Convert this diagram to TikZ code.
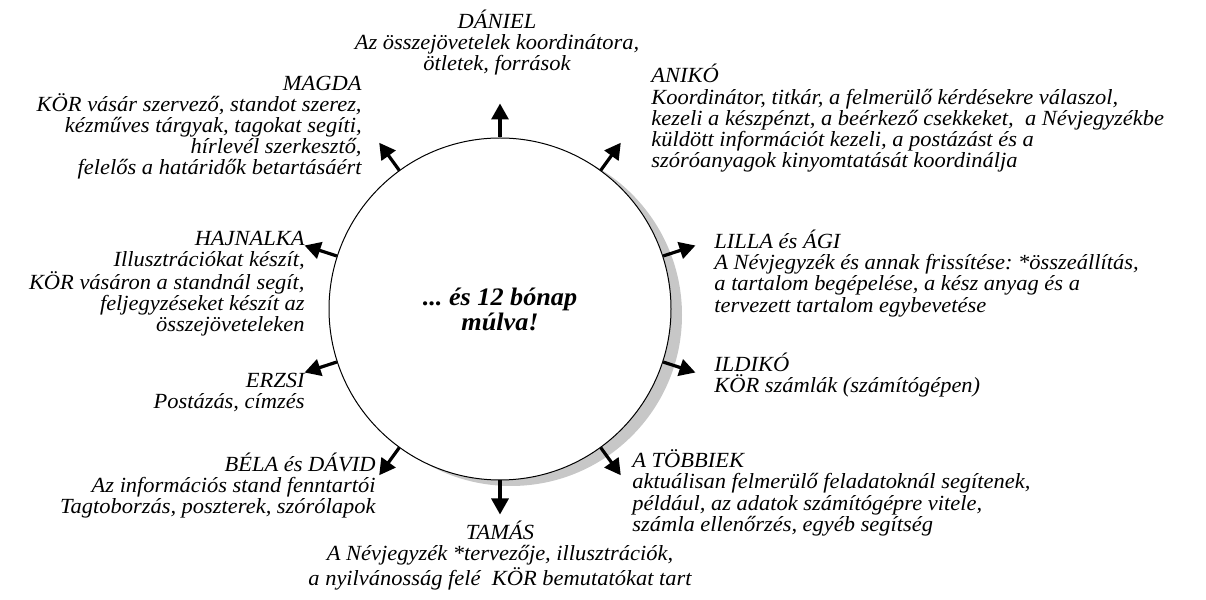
\documentclass[tikz,border=0pt]{standalone}
\usepackage{fontspec}
\setmainfont{Liberation Serif}[ItalicFeatures={FakeStretch=1.04},BoldItalicFeatures={FakeStretch=1.04}]
\usetikzlibrary{arrows.meta}
\frenchspacing
\begin{document}
\begin{tikzpicture}[x=0.5pt,y=0.5pt,font=\fontsize{10.8}{10.6}\selectfont\itshape,
		nyil/.style={line width=1.6pt,-{Triangle[length=8pt,width=8.5pt]}},
		szoveg/.style={inner sep=0pt,execute at begin node={\rule{0pt}{10pt}}}]
				\useasboundingbox (0,0) rectangle (1206,600);
				\path (500,291) coordinate (O);
				\fill[black!22] (O) ++(11,-6) circle (85.5pt);
				\node[circle,draw,fill=white,line width=0.5pt,minimum size=171pt,inner sep=0pt,align=center,
					font=\fontsize{12.6}{11}\selectfont\bfseries\itshape] (kor) at (O) {... és 12 bónap\\múlva!};
				\foreach \a in {90,54,18,-18,-54,-90,-126,-162,162,126}{
					\path (kor.\a) ++(\a:34) coordinate (v\a);
					\draw[nyil] (kor.\a) -- (v\a);
				}
				\node[szoveg,anchor=north,align=center] (dani) at (497,590.5) {DÁNIEL\\Az összejövetelek koordinátora,\\ötletek, források};
				\node[szoveg,anchor=north east,align=right] (magda) at (362,524.5) {MAGDA\\KÖR vásár szervező, standot szerez,\\kézműves tárgyak, tagokat segíti,\\hírlevél szerkesztő,\\felelős a határidők betartásáért};
				\node[szoveg,anchor=north west,align=left] (aniko) at (651,536) {ANIKÓ\\Koordinátor, titkár, a felmerülő kérdésekre válaszol,\\kezeli a készpénzt, a beérkező csekkeket,~ a Névjegyzékbe\\küldött információt kezeli, a postázást és a\\szóróanyagok kinyomtatását koordinálja};
				\node[szoveg,anchor=north west,align=left] (lilla) at (714,370.5) {LILLA és ÁGI\\A Névjegyzék és annak frissítése: *összeállítás,\\a tartalom begépelése, a kész anyag és a\\tervezett tartalom egybevetése};
				\node[szoveg,anchor=north west,align=left] (ildiko) at (714,247.5) {ILDIKÓ\\KÖR számlák (számítógépen)};
				\node[szoveg,anchor=north west,align=left] (tobbiek) at (632,150.5) {A TÖBBIEK\\aktuálisan felmerülő feladatoknál segítenek,\\például, az adatok számítógépre vitele,\\számla ellenőrzés, egyéb segítség};
				\node[szoveg,anchor=north,align=center] (tamas) at (500,79.5) {TAMÁS\\A Névjegyzék *tervezője, illusztrációk,\\a nyilvánosság felé~ KÖR bemutatókat tart};
				\node[szoveg,anchor=north east,align=right] (bela) at (376,147.5) {BÉLA és DÁVID\\Az információs stand fenntartói\\Tagtoborzás, poszterek, szórólapok};
				\node[szoveg,anchor=north east,align=right] (erzsi) at (305,227.5) {ERZSI\\Postázás, címzés};
				\node[szoveg,anchor=north east,align=right] (hajnalka) at (305,369.5) {HAJNALKA\\Illusztrációkat készít,\\KÖR vásáron a standnál segít,\\feljegyzéseket készít az\\összejöveteleken};
			\end{tikzpicture}
\end{document}
